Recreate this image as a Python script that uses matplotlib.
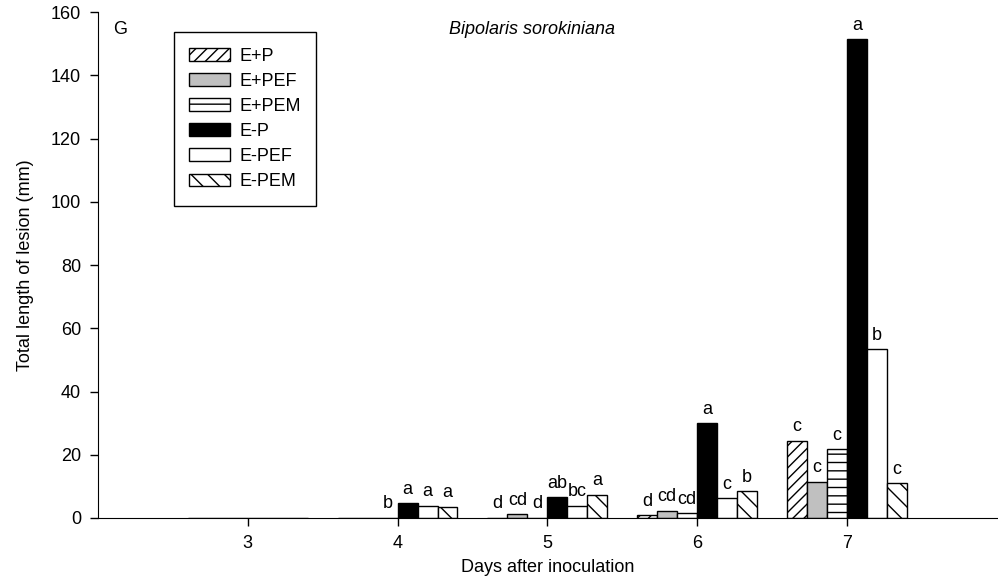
import numpy as np
import matplotlib.pyplot as plt

plt.rcParams['font.family'] = ['Liberation Sans', 'DejaVu Sans']

# dados
dias = [3, 4, 5, 6, 7]
series = ['E+P', 'E+PEF', 'E+PEM', 'E-P', 'E-PEF', 'E-PEM']
valores = {
    'E+P':   [0, 0, 0, 0.9, 24.4],
    'E+PEF': [0, 0, 1.2, 2.2, 11.4],
    'E+PEM': [0, 0, 0, 1.5, 21.8],
    'E-P':   [0, 4.7, 6.6, 30.0, 151.5],
    'E-PEF': [0, 3.8, 3.8, 6.3, 53.4],
    'E-PEM': [0, 3.6, 7.3, 8.5, 11.0],
}
letras = {
    'E+P':   ['', '', 'd', 'd', 'c'],
    'E+PEF': ['', '', 'cd', 'cd', 'c'],
    'E+PEM': ['', 'b', 'd', 'cd', 'c'],
    'E-P':   ['', 'a', 'ab', 'a', 'a'],
    'E-PEF': ['', 'a', 'bc', 'c', 'b'],
    'E-PEM': ['', 'a', 'a', 'b', 'c'],
}
estilos = {
    'E+P':   dict(facecolor='white', hatch='///'),
    'E+PEF': dict(facecolor='#c0c0c0', hatch=None),
    'E+PEM': dict(facecolor='white', hatch='--'),
    'E-P':   dict(facecolor='black', hatch=None),
    'E-PEF': dict(facecolor='white', hatch=None),
    'E-PEM': dict(facecolor='white', hatch='\\\\'),
}

fs = 13
plt.rcParams['hatch.linewidth'] = 1.0
fig = plt.figure(figsize=(9.98, 5.83), dpi=100)
ax = fig.add_axes([0.098, 0.1115, 0.901, 0.8675])

larg = 0.8 / len(series)
x = np.array(dias, dtype=float)
for i, s in enumerate(series):
    pos = x + (i - 2.5) * larg
    ax.bar(pos, valores[s], width=larg, edgecolor='black', linewidth=1,
           label=s, **estilos[s])
    for p, v, l in zip(pos, valores[s], letras[s]):
        if l:
            ax.annotate(l, (p, v), xytext=(0, 4), textcoords='offset points',
                        ha='center', va='bottom', fontsize=fs)

ax.set_xlim(2, 8)
ax.set_ylim(0, 160)
ax.set_xticks(dias)
ax.set_yticks(np.arange(0, 161, 20))
ax.spines['top'].set_visible(False)
ax.spines['right'].set_visible(False)
ax.tick_params(direction='out', length=6, labelsize=fs, width=1, pad=6)
ax.set_xlabel('Days after inoculation', fontsize=fs, labelpad=5)
ax.set_ylabel('Total length of lesion (mm)', fontsize=fs, labelpad=12)

ax.text(0.017, 0.965, 'G', transform=ax.transAxes, fontsize=fs, va='center')
ax.text(0.483, 0.965, 'Bipolaris sorokiniana', transform=ax.transAxes,
        fontsize=fs, style='italic', ha='center', va='center')

leg = ax.legend(loc='upper left', bbox_to_anchor=(0.0845, 0.9605), fontsize=fs,
                fancybox=False, edgecolor='black', framealpha=1,
                handlelength=2.28, handleheight=0.7, labelspacing=0.45,
                borderpad=0.85, handletextpad=0.5, borderaxespad=0)
leg.get_frame().set_linewidth(1)

fig.savefig('out.png', dpi=100)
